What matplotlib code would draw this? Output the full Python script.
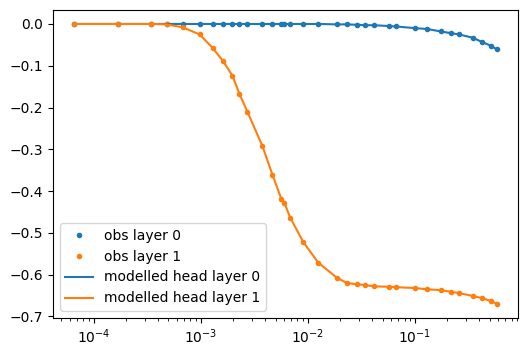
import numpy as np
import matplotlib
matplotlib.use('Agg')
import matplotlib.pyplot as plt

# observation times (shared by both layers)
times = [6.56e-5, 1.68e-4, 3.42e-4, 4.81e-4, 6.78e-4, 9.77e-4, 1.29e-3, 1.62e-3,
         1.98e-3, 2.30e-3, 2.73e-3, 3.77e-3, 4.68e-3, 5.67e-3, 6.04e-3, 6.87e-3,
         9.08e-3, 1.25e-2, 1.88e-2, 2.33e-2, 2.89e-2, 3.43e-2, 4.17e-2, 5.74e-2,
         6.67e-2, 1.00e-1, 1.30e-1, 1.75e-1, 2.17e-1, 2.57e-1, 3.48e-1, 4.22e-1,
         5.12e-1, 5.82e-1]

# drawdown, layer 0
head_layer0 = [0.0, 0.0, 0.0, 0.0, 0.0, 0.0, 0.0, 0.0,
               0.0, 0.0, 0.0, 0.0, 0.0, 0.0, 0.0, 0.0,
               0.0, 0.0, -0.001, -0.001, -0.002, -0.003, -0.003, -0.005,
               -0.006, -0.010, -0.012, -0.018, -0.022, -0.025, -0.033, -0.043,
               -0.052, -0.061]

# drawdown, layer 1
head_layer1 = [0.0, 0.0, 0.0, -0.001, -0.008, -0.025, -0.057, -0.089,
               -0.124, -0.167, -0.210, -0.292, -0.361, -0.419, -0.428, -0.464,
               -0.522, -0.571, -0.608, -0.620, -0.623, -0.625, -0.628, -0.629,
               -0.630, -0.632, -0.635, -0.637, -0.641, -0.644, -0.651, -0.656,
               -0.663, -0.670]

fig = plt.figure(figsize=(5.28, 3.56), dpi=100)
ax = fig.add_axes([0.100, 0.107, 0.881, 0.865])

ax.semilogx(times, head_layer0, 'C0.', label='obs layer 0')
ax.semilogx(times, head_layer1, 'C1.', label='obs layer 1')
ax.semilogx(times, head_layer0, 'C0', label='modelled head layer 0')
ax.semilogx(times, head_layer1, 'C1', label='modelled head layer 1')
ax.legend(loc='lower left')

plt.savefig('out.png', dpi=100)
plt.close()
